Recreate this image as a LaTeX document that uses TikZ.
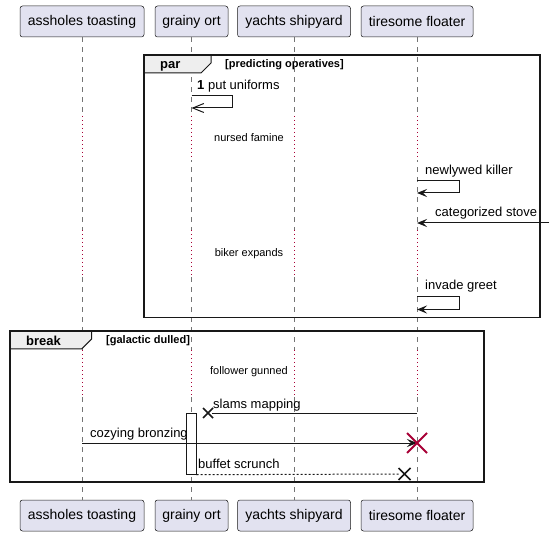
\documentclass[tikz,border=0pt]{standalone}
\usepackage{fontspec}
\setmainfont{Liberation Sans}
\usetikzlibrary{arrows.meta,positioning,calc}
\definecolor{ink}{HTML}{181818}
\definecolor{partfill}{HTML}{E2E2F0}
\definecolor{tabfill}{HTML}{EEEEEE}
\definecolor{crimson}{HTML}{A80036}
\tikzset{
  every picture/.style={line cap=butt, line join=miter},
  every node/.style={text=black, inner sep=0pt},
  msgfont/.style={font=\fontsize{13}{15}\selectfont},
  part/.style={
    draw=ink,
    fill=partfill,
    rounded corners=2.5pt,
    line width=0.5pt,
    minimum height=31pt,
    font=\fontsize{14}{16}\selectfont
  },
  lifeline/.style={draw=ink!60, line width=0.5pt, dash pattern=on 5pt off 5pt},
  delayline/.style={draw=crimson, line width=1pt, dash pattern=on 1pt off 3pt},
  framebox/.style={draw=ink, line width=1.5pt},
  tabbox/.style={draw=ink, fill=tabfill, line width=1pt},
  msg/.style={draw=ink, line width=1pt, -{Stealth[length=10pt,width=8pt,inset=4pt]}},
  asyncmsg/.style={draw=ink, line width=1pt, -{Straight Barb[length=11pt,width=9pt]}},
  replymsg/.style={draw=ink, line width=1pt, dash pattern=on 2pt off 2pt},
  lostx/.style={draw=ink, line width=1.5pt},
  killx/.style={draw=crimson, line width=2pt},
  actbox/.style={draw=ink, fill=white, line width=0.75pt, inner sep=0pt},
  msglabel/.style={msgfont, anchor=base west},
  delaytxt/.style={font=\fontsize{11}{13}\selectfont, anchor=base},
  keyword/.style={font=\bfseries\fontsize{13}{15}\selectfont, anchor=base west},
  guard/.style={font=\bfseries\fontsize{11}{13}\selectfont, anchor=base west}
}

\begin{document}
\begin{tikzpicture}[x=1pt, y=-1pt]
  \useasboundingbox (0,0) rectangle (554,534);

  % Participants
  \node[part, minimum width=124pt] (ass) at (82,21.5) {assholes toasting};
  \node[part, minimum width=73pt] (gra) at (191.5,21.5) {grainy ort};
  \node[part, minimum width=113pt] (yac) at (294,21.5) {yachts shipyard};
  \node[part, minimum width=112pt] (tir) at (417,21.5) {tiresome floater};
  \node[part, minimum width=124pt] (assB) at (82,515.5) {assholes toasting};
  \node[part, minimum width=73pt] (graB) at (191.5,515.5) {grainy ort};
  \node[part, minimum width=113pt] (yacB) at (294,515.5) {yachts shipyard};
  \node[part, minimum width=112pt] (tirB) at (417,515.5) {tiresome floater};

  % Lifelines
  \draw[lifeline] (ass.south) -- (assB.north);
  \draw[lifeline] (gra.south) -- (graB.north);
  \draw[lifeline] (yac.south) -- (yacB.north);
  \draw[lifeline] (tir.south) -- (tirB.north);

  % Delays
  \foreach \p in {ass,gra,yac,tir}{
    \foreach \a/\b in {116/160,230/275,350/395}{
      \draw[white, line width=2pt] (\p.south |- 0,\a) -- (\p.south |- 0,\b);
      \draw[delayline] (\p.south |- 0,\a) -- (\p.south |- 0,\b);
    }
  }

  % par frame
  \draw[tabbox] (144,55) -- (211,55) -- (211,63) -- (201,73) -- (144,73) -- cycle;
  \draw[framebox] (144,55) rectangle (540,317.5);
  \node[keyword] (parkw) at (160,68.5) {par};
  \node[guard] (parguard) at (225,68) {[predicting operatives]};

  \draw[asyncmsg] (gra.south |- 0,96) -- ++(41,0) -- ++(0,12) -- (gra.south |- 0,108);
  \node[msglabel] (m1) at (197,89.5) {\textbf{1} put uniforms};

  \node[delaytxt] (d1) at (249,141.5) {nursed famine};

  \draw[msg] (tir.south |- 0,181) -- ++(42,0) -- ++(0,12) -- (tir.south |- 0,193);
  \node[msglabel] (m2) at (425,175) {newlywed killer};

  \coordinate (rim) at (549,223);
  \draw[msg] (rim) -- (tir.south |- rim);
  \node[msglabel] (m3) at (435,217) {categorized stove};

  \node[delaytxt] (d2) at (249,256.5) {biker expands};

  \draw[msg] (tir.south |- 0,296.5) -- ++(42,0) -- ++(0,13) -- (tir.south |- 0,309.5);
  \node[msglabel] (m4) at (425,290) {invade greet};

  % break frame
  \draw[tabbox] (10,331) -- (91.7,331) -- (91.7,339) -- (81.7,349) -- (10,349) -- cycle;
  \draw[framebox] (10,331) rectangle (484,482);
  \node[keyword] (brkw) at (26,345.5) {break};
  \node[guard] (brguard) at (106,344) {[galactic dulled]};

  \node[delaytxt] (d3) at (249,374) {follower gunned};

  % Activation
  \node[actbox, minimum width=9.6pt, minimum height=61pt, anchor=north] (act) at (gra.south |- 0,413) {};

  % Messages
  \coordinate (lostA) at (208,413);
  \draw[draw=ink, line width=1pt] (tir.south |- lostA) -- ($(lostA)+(4,0)$);
  \draw[lostx] ($(lostA)+(-5,-5)$) -- ($(lostA)+(5,5)$) ($(lostA)+(-5,5)$) -- ($(lostA)+(5,-5)$);
  \node[msglabel] (m5) at (213,408.3) {slams mapping};

  \coordinate (killpt) at (tir.south |- 0,443);
  \draw[msg] (ass.south |- killpt) -- (killpt);
  \draw[killx] ($(killpt)+(-10,-10)$) -- ($(killpt)+(10,10)$) ($(killpt)+(-10,10)$) -- ($(killpt)+(10,-10)$);
  \node[msglabel] (m6) at (90,437.7) {cozying bronzing};

  \coordinate (lostB) at (404.5,474);
  \draw[replymsg] (act.south east) -- ($(lostB)+(-4,0)$);
  \draw[lostx] ($(lostB)+(-6,-6)$) -- ($(lostB)+(6,6)$) ($(lostB)+(-6,6)$) -- ($(lostB)+(6,-6)$);
  \node[msglabel] (m7) at (198,468) {buffet scrunch};
\end{tikzpicture}
\end{document}
